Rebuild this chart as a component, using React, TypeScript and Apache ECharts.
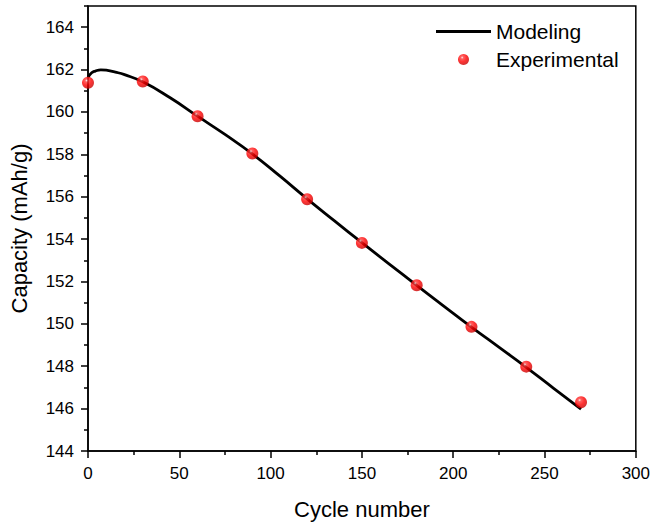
import React, { useEffect, useRef } from "react";
import * as echarts from "echarts";

const FONT = "'Liberation Sans', Arial, Helvetica, sans-serif";

// Experimental points
const expCycles = [0, 30, 60, 90, 120, 150, 180, 210, 240, 270];
const expCapacity = [161.38, 161.44, 159.8, 158.04, 155.88, 153.82, 151.82, 149.86, 147.98, 146.3];

// Modeling curve
const modelCycles = [0, 2, 4, 7, 10, 15, 20, 30, 45, 60, 75, 90, 105, 120, 135, 150, 165, 180, 195, 210, 225, 240, 255, 270];
const modelCapacity = [161.63, 161.85, 161.93, 161.99, 161.97, 161.88, 161.76, 161.42, 160.67, 159.8, 158.94, 158.02, 156.98, 155.9, 154.86, 153.83, 152.82, 151.82, 150.83, 149.85, 148.9, 147.95, 146.96, 145.98];

const xMajorTicks = [0, 50, 100, 150, 200, 250, 300];
const yMajorTicks = [144, 146, 148, 150, 152, 154, 156, 158, 160, 162, 164];
const yMinorTicks = [145, 147, 149, 151, 153, 155, 157, 159, 161, 163, 165];

export default function App() {
  const ref = useRef<HTMLDivElement>(null);

  useEffect(() => {
    document.body.style.margin = "0";
    if (!ref.current) return;
    const chart = echarts.init(ref.current, null, { renderer: "svg" });

    const ball = {
      type: "radial",
      x: 0.38,
      y: 0.32,
      r: 0.7,
      colorStops: [
        { offset: 0, color: "#ffe8e8" },
        { offset: 0.18, color: "#ff3a3a" },
        { offset: 0.55, color: "#ff0000" },
        { offset: 1, color: "#c40000" },
      ],
    };

    chart.setOption({
      animation: false,
      backgroundColor: "#ffffff",
      textStyle: { fontFamily: FONT },
      grid: {
        left: 86,
        right: 15,
        top: 6,
        bottom: 71,
        show: true,
        borderColor: "#000",
        borderWidth: 1.5,
        backgroundColor: "transparent",
      },
      legend: {
        orient: "vertical",
        left: 436,
        top: 21,
        padding: 0,
        itemWidth: 55,
        itemHeight: 11,
        itemGap: 7,
        textStyle: { fontSize: 21, color: "#000", fontFamily: FONT },
        data: [
          { name: "Modeling", icon: "path://M0,0 L52,0 L52,3 L0,3 Z" },
          { name: "Experimental", icon: "circle" },
        ],
      },
      xAxis: [
        {
          type: "value",
          min: 0,
          max: 300,
          interval: 50,
          name: "Cycle number",
          nameLocation: "middle",
          nameGap: 47,
          nameTextStyle: { fontSize: 22, color: "#000", fontFamily: FONT },
          axisLine: { show: true, onZero: false, lineStyle: { color: "#000", width: 1.5 } },
          axisTick: { show: true, inside: false, length: 7, lineStyle: { color: "#000", width: 1.5 } },
          minorTick: { show: true, splitNumber: 2, length: 4, lineStyle: { color: "#000", width: 1.5 } },
          axisLabel: {
            margin: 14,
            fontSize: 17,
            color: "#000",
            fontFamily: FONT,
            customValues: xMajorTicks,
          },
          splitLine: { show: false },
        },
      ],
      yAxis: [
        {
          type: "value",
          min: 144,
          max: 165,
          interval: 2,
          name: "Capacity (mAh/g)",
          nameLocation: "middle",
          nameGap: 58,
          nameTextStyle: { fontSize: 22, color: "#000", fontFamily: FONT },
          axisLine: { show: true, onZero: false, lineStyle: { color: "#000", width: 1.5 } },
          axisTick: {
            show: true,
            inside: false,
            length: 7,
            customValues: yMajorTicks,
            lineStyle: { color: "#000", width: 1.5 },
          },
          axisLabel: {
            margin: 14,
            fontSize: 17,
            color: "#000",
            fontFamily: FONT,
            customValues: yMajorTicks,
          },
          splitLine: { show: false },
        },
        {
          type: "value",
          min: 144,
          max: 165,
          position: "left",
          offset: 0,
          axisLine: { show: false },
          axisTick: {
            show: true,
            inside: false,
            length: 4,
            customValues: yMinorTicks,
            lineStyle: { color: "#000", width: 1.5 },
          },
          axisLabel: { show: false },
          splitLine: { show: false },
        },
      ],
      series: [
        {
          name: "Modeling",
          type: "line",
          xAxisIndex: 0,
          yAxisIndex: 0,
          data: modelCycles.map((c, i) => [c, modelCapacity[i]]),
          symbol: "none",
          smooth: 0.5,
          lineStyle: { color: "#000", width: 2.8 },
          itemStyle: { color: "#000" },
          z: 2,
        },
        {
          name: "Experimental",
          type: "scatter",
          xAxisIndex: 0,
          yAxisIndex: 0,
          data: expCycles.map((c, i) => [c, expCapacity[i]]),
          symbol: "circle",
          symbolSize: 12,
          itemStyle: { color: ball },
          z: 3,
        },
      ],
    });

    return () => chart.dispose();
  }, []);

  return <div ref={ref} style={{ width: 653, height: 525 }} />;
}
